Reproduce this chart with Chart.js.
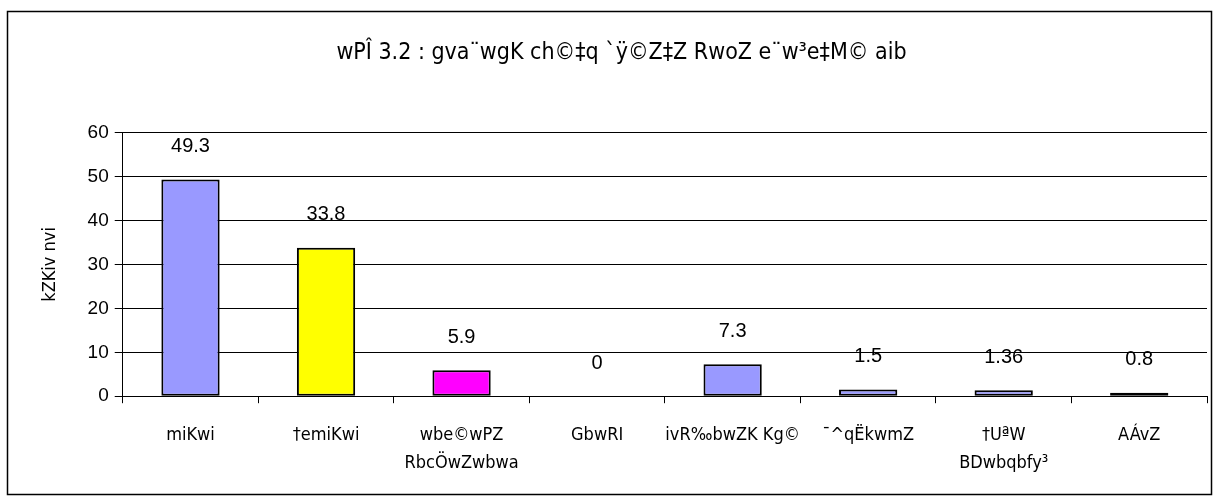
<!DOCTYPE html>
<html>
<head>
<meta charset="utf-8">
<script src="https://cdn.jsdelivr.net/npm/chart.js@4/dist/chart.umd.min.js"></script>
<style>
html,body{margin:0;padding:0;background:#fff;}
#wrap{position:relative;width:1220px;height:504px;}
</style>
</head>
<body>
<div id="wrap"><canvas id="c" width="1220" height="504"></canvas></div>
<script>
const titleText = 'wPÎ 3.2 : gva¨wgK ch©‡q `ÿ©Z‡Z RwoZ e¨w³e‡M© aib';
const yAxisTitle = 'kZKiv nvi';
const categories = [
  'miKwi',
  '†emiKwi',
  ['wbe©wPZ', 'RbcÖwZwbwa'],
  'GbwRI',
  'ivR‰bwZK Kg©',
  '¯^qËkwmZ',
  ['†UªW', 'BDwbqbfy³'],
  'AÁvZ'
];
const values = [49.3, 33.8, 5.9, 0, 7.3, 1.5, 1.36, 0.8];
const valueLabels = ['49.3', '33.8', '5.9', '0', '7.3', '1.5', '1.36', '0.8'];
const barColors = ['#9999FF', '#FFFF00', '#FF00FF', '#9999FF', '#9999FF', '#9999FF', '#9999FF', '#9999FF'];
const yTicks = [0, 10, 20, 30, 40, 50, 60];

const narrow = '"Liberation Sans Narrow", "DejaVu Sans Condensed", "Liberation Sans", sans-serif';
const regular = '"Liberation Sans", Arial, sans-serif';

const frame = {
  id: 'frame',
  beforeDraw(chart) {
    const ctx = chart.ctx;
    ctx.save();
    ctx.fillStyle = '#fff';
    ctx.fillRect(0, 0, chart.width, chart.height);
    ctx.strokeStyle = '#000';
    ctx.lineWidth = 1.5;
    ctx.strokeRect(7.5, 11.5, 1204, 483);
    ctx.restore();
  },
  afterDatasetsDraw(chart) {
    const ctx = chart.ctx;
    const meta = chart.getDatasetMeta(0);
    ctx.save();
    ctx.font = '20px ' + regular;
    ctx.fillStyle = '#000';
    ctx.textAlign = 'center';
    ctx.textBaseline = 'middle';
    meta.data.forEach((bar, i) => {
      ctx.fillText(valueLabels[i], bar.x, bar.y - 33);
    });
    ctx.restore();
  }
};

new Chart(document.getElementById('c'), {
  type: 'bar',
  data: {
    labels: categories,
    datasets: [{
      data: values,
      backgroundColor: barColors,
      borderColor: '#000',
      borderWidth: 2,
      borderSkipped: false,
      barPercentage: 0.43,
      categoryPercentage: 1.0
    }]
  },
  options: {
    responsive: false,
    animation: false,
    layout: { padding: { left: 36, right: 13, top: 22, bottom: 9 } },
    plugins: {
      legend: { display: false },
      tooltip: { enabled: false },
      title: {
        display: true,
        text: titleText,
        color: '#000',
        font: { family: narrow, size: 23, weight: 'normal' },
        padding: { top: 17, bottom: 66 }
      }
    },
    scales: {
      x: {
        grid: { display: true, drawOnChartArea: false, drawTicks: true, tickLength: 7, color: '#000', offset: true },
        border: { display: true, color: '#000', width: 1 },
        ticks: { color: '#000', font: { family: narrow, size: 18, lineHeight: 1.55 }, maxRotation: 0, autoSkip: false, padding: 18 }
      },
      y: {
        min: 0, max: 60,
        afterBuildTicks(axis) { axis.ticks = yTicks.map(v => ({ value: v })); },
        grid: { color: '#000', lineWidth: 1, tickLength: 8 },
        border: { display: true, color: '#000', width: 1 },
        ticks: { color: '#000', font: { family: regular, size: 19 }, padding: 6 },
        title: { display: true, text: yAxisTitle, color: '#000', font: { family: narrow, size: 18 }, padding: { bottom: 20 } }
      }
    }
  },
  plugins: [frame]
});
</script>
</body>
</html>
